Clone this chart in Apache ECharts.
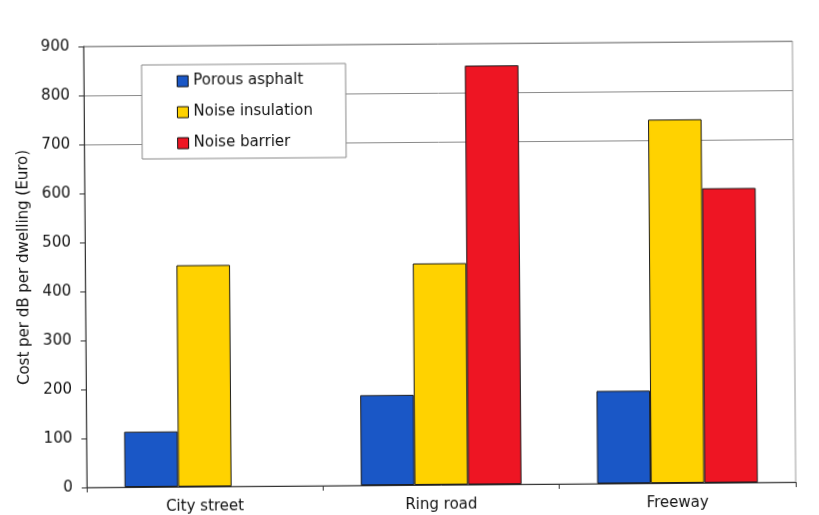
<!DOCTYPE html>
<html>
<head>
<meta charset="utf-8">
<script src="https://cdn.jsdelivr.net/npm/echarts@6/dist/echarts.min.js"></script>
<style>
  html, body { margin: 0; padding: 0; background: #ffffff; }
  #chart { width: 819px; height: 515px; transform: rotate(-0.43deg); transform-origin: 50% 50%; }
</style>
</head>
<body>
<div id="chart"></div>
<script>
// Road types on the category axis
const categories = ['City street', 'Ring road', 'Freeway'];

// Cost per dB per dwelling (Euro) for each noise measure
const porousAsphalt = [113, 184, 189];
const noiseInsulation = [452, 452, 742];
const noiseBarrier = [null, 855, 601];

// Value axis ticks
const yTicks = [0, 100, 200, 300, 400, 500, 600, 700, 800, 900];

const seriesNames = ['Porous asphalt', 'Noise insulation', 'Noise barrier'];
const seriesColors = ['#1a57c6', '#ffd200', '#ee1523'];
const seriesData = [porousAsphalt, noiseInsulation, noiseBarrier];

// Only the upper horizontal lines are drawn across the plot
const splitColors = yTicks.map(v => (v >= 700 ? '#8a8a8a' : 'rgba(0,0,0,0)'));

const font = 'DejaVu Sans';

const chart = echarts.init(document.getElementById('chart'), null, { renderer: 'canvas' });

chart.setOption({
  backgroundColor: '#ffffff',
  animation: false,
  textStyle: { fontFamily: font },
  grid: {
    left: 85, right: 25, top: 44, bottom: 30,
    show: true, borderColor: '#9a9a9a', borderWidth: 1,
    containLabel: false
  },
  legend: {
    orient: 'vertical',
    left: 143, top: 63,
    data: seriesNames,
    itemWidth: 11, itemHeight: 11,
    itemGap: 16,
    padding: [9, 33, 8, 35],
    borderColor: '#8a8a8a', borderWidth: 1,
    backgroundColor: '#ffffff',
    icon: 'rect',
    itemStyle: { borderColor: '#111', borderWidth: 1 },
    textStyle: { fontFamily: font, fontSize: 15, color: '#111', padding: [0, 0, 0, 0] }
  },
  xAxis: {
    type: 'category',
    data: categories,
    axisLine: { lineStyle: { color: '#333', width: 1 } },
    axisTick: { show: true, alignWithLabel: false, length: 5, lineStyle: { color: '#333' } },
    axisLabel: { fontFamily: font, fontSize: 15, color: '#111', margin: 13 },
    splitLine: { show: false }
  },
  yAxis: {
    type: 'value',
    min: yTicks[0], max: yTicks[yTicks.length - 1], interval: 100,
    name: 'Cost per dB per dwelling (Euro)',
    nameLocation: 'middle',
    nameGap: 46,
    nameTextStyle: { fontFamily: font, fontSize: 15, color: '#111' },
    axisLine: { show: true, lineStyle: { color: '#333', width: 1 } },
    axisTick: { show: true, length: 5, lineStyle: { color: '#333' } },
    axisLabel: { fontFamily: font, fontSize: 15, color: '#111', margin: 14 },
    splitLine: { show: true, lineStyle: { color: splitColors, width: 1 } }
  },
  series: seriesNames.map((name, i) => ({
    name: name,
    type: 'bar',
    data: seriesData[i],
    barGap: '0%',
    barCategoryGap: '32%',
    itemStyle: { color: seriesColors[i], borderColor: '#1a1a1a', borderWidth: 1 }
  }))
});
</script>
</body>
</html>
